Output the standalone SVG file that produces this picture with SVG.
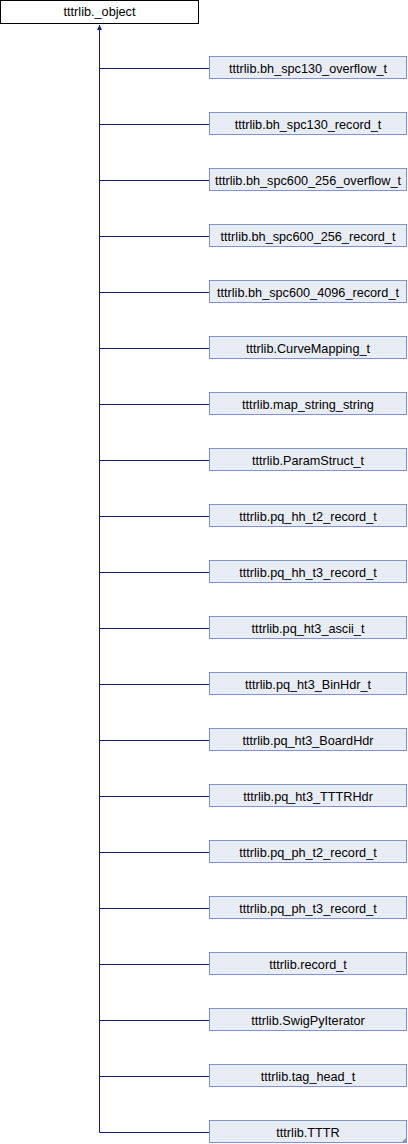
<svg xmlns="http://www.w3.org/2000/svg" width="408" height="1144" viewBox="0 0 408 1144">
<style>
.n rect{fill:#e8ecf5;stroke:#8193c9;stroke-width:1}
.root rect{fill:#ffffff;stroke:#000000;stroke-width:1}
text{font-family:"Liberation Sans",Arial,sans-serif;font-size:12.7px;fill:#000;text-anchor:middle}
.e{stroke:#191970;stroke-width:1;fill:none}
</style>
<defs>
<marker id="ah" viewBox="0 0 10 10" refX="10" refY="5" markerWidth="5" markerHeight="5" orient="auto" markerUnits="userSpaceOnUse">
<path d="M0,0 L10,5 L0,10 z" fill="#191970"/>
</marker>
</defs>
<rect width="408" height="1144" fill="#ffffff"/>
<g id="connectors">
<path class="e" d="M99.5,1132.5 V25" marker-end="url(#ah)"/>
<path class="e" d="M99.5,68.5 H209.5"/>
<path class="e" d="M99.5,124.5 H209.5"/>
<path class="e" d="M99.5,180.5 H209.5"/>
<path class="e" d="M99.5,236.5 H209.5"/>
<path class="e" d="M99.5,292.5 H209.5"/>
<path class="e" d="M99.5,348.5 H209.5"/>
<path class="e" d="M99.5,404.5 H209.5"/>
<path class="e" d="M99.5,460.5 H209.5"/>
<path class="e" d="M99.5,516.5 H209.5"/>
<path class="e" d="M99.5,572.5 H209.5"/>
<path class="e" d="M99.5,628.5 H209.5"/>
<path class="e" d="M99.5,684.5 H209.5"/>
<path class="e" d="M99.5,740.5 H209.5"/>
<path class="e" d="M99.5,796.5 H209.5"/>
<path class="e" d="M99.5,852.5 H209.5"/>
<path class="e" d="M99.5,908.5 H209.5"/>
<path class="e" d="M99.5,964.5 H209.5"/>
<path class="e" d="M99.5,1020.5 H209.5"/>
<path class="e" d="M99.5,1076.5 H209.5"/>
<path class="e" d="M99.5,1132.5 H209.5"/>
</g>
<g id="node-object" class="root"><rect x="0.5" y="0.5" width="198" height="23"/><text x="99.5" y="16">tttrlib._object</text></g>
<g id="node-1" class="n"><rect x="209.5" y="56.5" width="197" height="22"/><text x="308" y="72.5">tttrlib.bh_spc130_overflow_t</text></g>
<g id="node-2" class="n"><rect x="209.5" y="112.5" width="197" height="22"/><text x="308" y="128.5">tttrlib.bh_spc130_record_t</text></g>
<g id="node-3" class="n"><rect x="209.5" y="168.5" width="197" height="22"/><text x="308" y="184.5">tttrlib.bh_spc600_256_overflow_t</text></g>
<g id="node-4" class="n"><rect x="209.5" y="224.5" width="197" height="22"/><text x="308" y="240.5">tttrlib.bh_spc600_256_record_t</text></g>
<g id="node-5" class="n"><rect x="209.5" y="280.5" width="197" height="22"/><text x="308" y="296.5">tttrlib.bh_spc600_4096_record_t</text></g>
<g id="node-6" class="n"><rect x="209.5" y="336.5" width="197" height="22"/><text x="308" y="352.5">tttrlib.CurveMapping_t</text></g>
<g id="node-7" class="n"><rect x="209.5" y="392.5" width="197" height="22"/><text x="308" y="408.5">tttrlib.map_string_string</text></g>
<g id="node-8" class="n"><rect x="209.5" y="448.5" width="197" height="22"/><text x="308" y="464.5">tttrlib.ParamStruct_t</text></g>
<g id="node-9" class="n"><rect x="209.5" y="504.5" width="197" height="22"/><text x="308" y="520.5">tttrlib.pq_hh_t2_record_t</text></g>
<g id="node-10" class="n"><rect x="209.5" y="560.5" width="197" height="22"/><text x="308" y="576.5">tttrlib.pq_hh_t3_record_t</text></g>
<g id="node-11" class="n"><rect x="209.5" y="616.5" width="197" height="22"/><text x="308" y="632.5">tttrlib.pq_ht3_ascii_t</text></g>
<g id="node-12" class="n"><rect x="209.5" y="672.5" width="197" height="22"/><text x="308" y="688.5">tttrlib.pq_ht3_BinHdr_t</text></g>
<g id="node-13" class="n"><rect x="209.5" y="728.5" width="197" height="22"/><text x="308" y="744.5">tttrlib.pq_ht3_BoardHdr</text></g>
<g id="node-14" class="n"><rect x="209.5" y="784.5" width="197" height="22"/><text x="308" y="800.5">tttrlib.pq_ht3_TTTRHdr</text></g>
<g id="node-15" class="n"><rect x="209.5" y="840.5" width="197" height="22"/><text x="308" y="856.5">tttrlib.pq_ph_t2_record_t</text></g>
<g id="node-16" class="n"><rect x="209.5" y="896.5" width="197" height="22"/><text x="308" y="912.5">tttrlib.pq_ph_t3_record_t</text></g>
<g id="node-17" class="n"><rect x="209.5" y="952.5" width="197" height="22"/><text x="308" y="968.5">tttrlib.record_t</text></g>
<g id="node-18" class="n"><rect x="209.5" y="1008.5" width="197" height="22"/><text x="308" y="1024.5">tttrlib.SwigPyIterator</text></g>
<g id="node-19" class="n"><rect x="209.5" y="1064.5" width="197" height="22"/><text x="308" y="1080.5">tttrlib.tag_head_t</text></g>
<g id="node-20" class="n"><rect x="209.5" y="1120.5" width="197" height="22"/><text x="308" y="1136.5">tttrlib.TTTR</text><path d="M406,1138 L406,1142 L402,1142 z" fill="#8193c9"/></g>
</svg>
